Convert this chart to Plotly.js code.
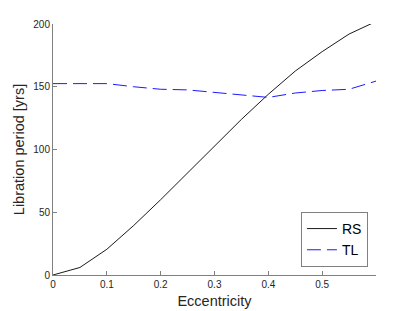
<!DOCTYPE html>
<html>
<head>
<meta charset="utf-8">
<script src="https://cdn.plot.ly/plotly-3.0.1.min.js"></script>
<style>html,body{margin:0;padding:0;background:#fff;}#chart{width:414px;height:311px;}</style>
</head>
<body>
<div id="chart"></div>
<script>
const eccentricity = [0, 0.05, 0.1, 0.15, 0.2, 0.25, 0.3, 0.35, 0.4, 0.45, 0.5, 0.55, 0.6];
const rsPeriod = [0, 6, 20.5, 39.5, 60, 81.5, 103, 124, 144, 162.5, 178, 192, 202];
const tlPeriod = [152.5, 152.5, 152.5, 150, 148, 147.5, 145.5, 143, 141.5, 145, 147, 148, 154.5];
const xTicks = [0, 0.1, 0.2, 0.3, 0.4, 0.5];
const xTickText = ['0', '0.1', '0.2', '0.3', '0.4', '0.5'];
const yTicks = [0, 50, 100, 150, 200];

const FONT = 'Liberation Sans, Arial, sans-serif';

const traces = [
  {x: eccentricity, y: rsPeriod, name: 'RS', type: 'scatter', mode: 'lines',
   line: {color: '#000000', width: 0.9}},
  {x: eccentricity, y: tlPeriod, name: 'TL', type: 'scatter', mode: 'lines',
   line: {color: '#0000ff', width: 0.9, dash: '14px,6px'}}
];

const axisCommon = {
  showgrid: false, zeroline: false, showline: true, linecolor: '#808080', linewidth: 1,
  ticks: 'inside', ticklen: 4, tickcolor: '#808080', tickwidth: 1,
  tickfont: {family: FONT, size: 10, color: '#262626'},
  mirror: false
};

const layout = {
  width: 414, height: 311,
  margin: {l: 53, r: 38, t: 24, b: 36, pad: 0},
  paper_bgcolor: '#ffffff', plot_bgcolor: '#ffffff',
  showlegend: true,
  legend: {x: 0.975, y: 0.032, xanchor: 'right', yanchor: 'bottom',
    bordercolor: '#808080', borderwidth: 1, bgcolor: '#ffffff',
    font: {family: FONT, size: 14, color: '#000000'},
    tracegroupgap: 0, itemwidth: 30},
  xaxis: Object.assign({}, axisCommon, {
    range: [0, 0.6], tickvals: xTicks, ticktext: xTickText,
    title: {text: 'Eccentricity', standoff: 6,
      font: {family: FONT, size: 14.5, color: '#262626'}}
  }),
  yaxis: Object.assign({}, axisCommon, {
    range: [0, 200], tickvals: yTicks,
    title: {text: 'Libration period [yrs]', standoff: 5,
      font: {family: FONT, size: 14.5, color: '#262626'}}
  })
};

Plotly.newPlot('chart', traces, layout, {displayModeBar: false, staticPlot: true});
</script>
</body>
</html>
